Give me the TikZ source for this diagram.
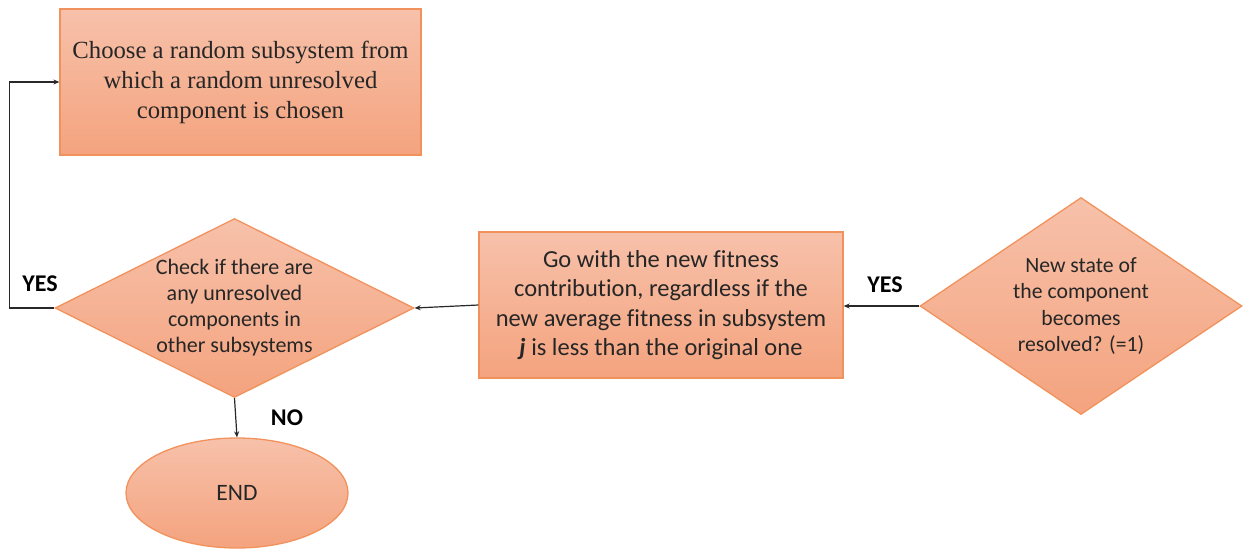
\documentclass[tikz,border=0pt]{standalone}
\usepackage{fontspec}
\setmainfont{Carlito}[Ligatures=NoCommon]
\newfontfamily\timesfont{Liberation Serif}
\usetikzlibrary{shapes.geometric,arrows.meta}
\definecolor{fillTop}{RGB}{247,193,170}
\definecolor{fillBot}{RGB}{244,163,126}
\definecolor{edgeOr}{RGB}{241,146,92}
\definecolor{lineGray}{RGB}{40,40,40}
\definecolor{textGray}{RGB}{38,38,38}
\begin{document}
\begin{tikzpicture}[x=1pt,y=-1pt,
  shapebase/.style={draw=edgeOr, line width=1.3pt, top color=fillTop, bottom color=fillBot, inner sep=0pt},
  procbox/.style={shapebase, rectangle, minimum height=146pt, align=center, text=textGray},
  decision/.style={shapebase, diamond},
  term/.style={shapebase, ellipse, minimum width=222pt, minimum height=110pt, text=textGray},
  inside/.style={align=center, text=textGray},
  flow/.style={draw=lineGray, line width=1.2pt, -{Stealth[length=6pt,width=5pt]}},
  lbl/.style={font=\fontsize{24}{26}\selectfont\bfseries, text=black}
]
\useasboundingbox (0,0) rectangle (1244,550);

% process boxes
\node[procbox, minimum width=361pt, font=\timesfont\fontsize{24.7}{30}\selectfont] (choose) at (240.5,82)
  {Choose a random subsystem from\\ which a random unresolved\\ component is chosen};
\node[procbox, minimum width=364pt, font=\fontsize{24.5}{29.5}\selectfont] (gowith) at (661,305)
  {Go with the new fitness\\ contribution, regardless if the\\ new average fitness in subsystem\\ \textbf{\textit{j}} is less than the original one};

% decisions
\node[decision, minimum width=359pt, minimum height=179pt] (check) at (234.5,308) {};
\node[inside, font=\fontsize{22}{26}\selectfont] (checktext) at (check.center) {Check if there are\\ any unresolved\\ components in\\ other subsystems};
\node[decision, minimum width=322pt, minimum height=217pt] (resolved) at (1081,306) {};
\node[inside, font=\fontsize{21.7}{26.5}\selectfont] (resolvedtext) at (resolved.center) {New state of\\ the component\\ becomes\\ resolved? (=1)};

% terminal
\node[term, font=\fontsize{23.5}{26}\selectfont] (finish) at (237,493) {END};

% connectors
\draw[flow] (resolved.west) -- (resolved.west -| gowith.east);
\draw[flow] (gowith.west) -- (check.east);
\draw[flow] (check.south) -- (finish.north);
\draw[flow] (check.west) -- ++(-45,0) |- (choose.west);

% branch labels
\node[lbl] (yesleft) at (40,284) {YES};
\node[lbl] (yesright) at (885,285) {YES};
\node[lbl] (no) at (287,418) {NO};
\end{tikzpicture}
\end{document}
